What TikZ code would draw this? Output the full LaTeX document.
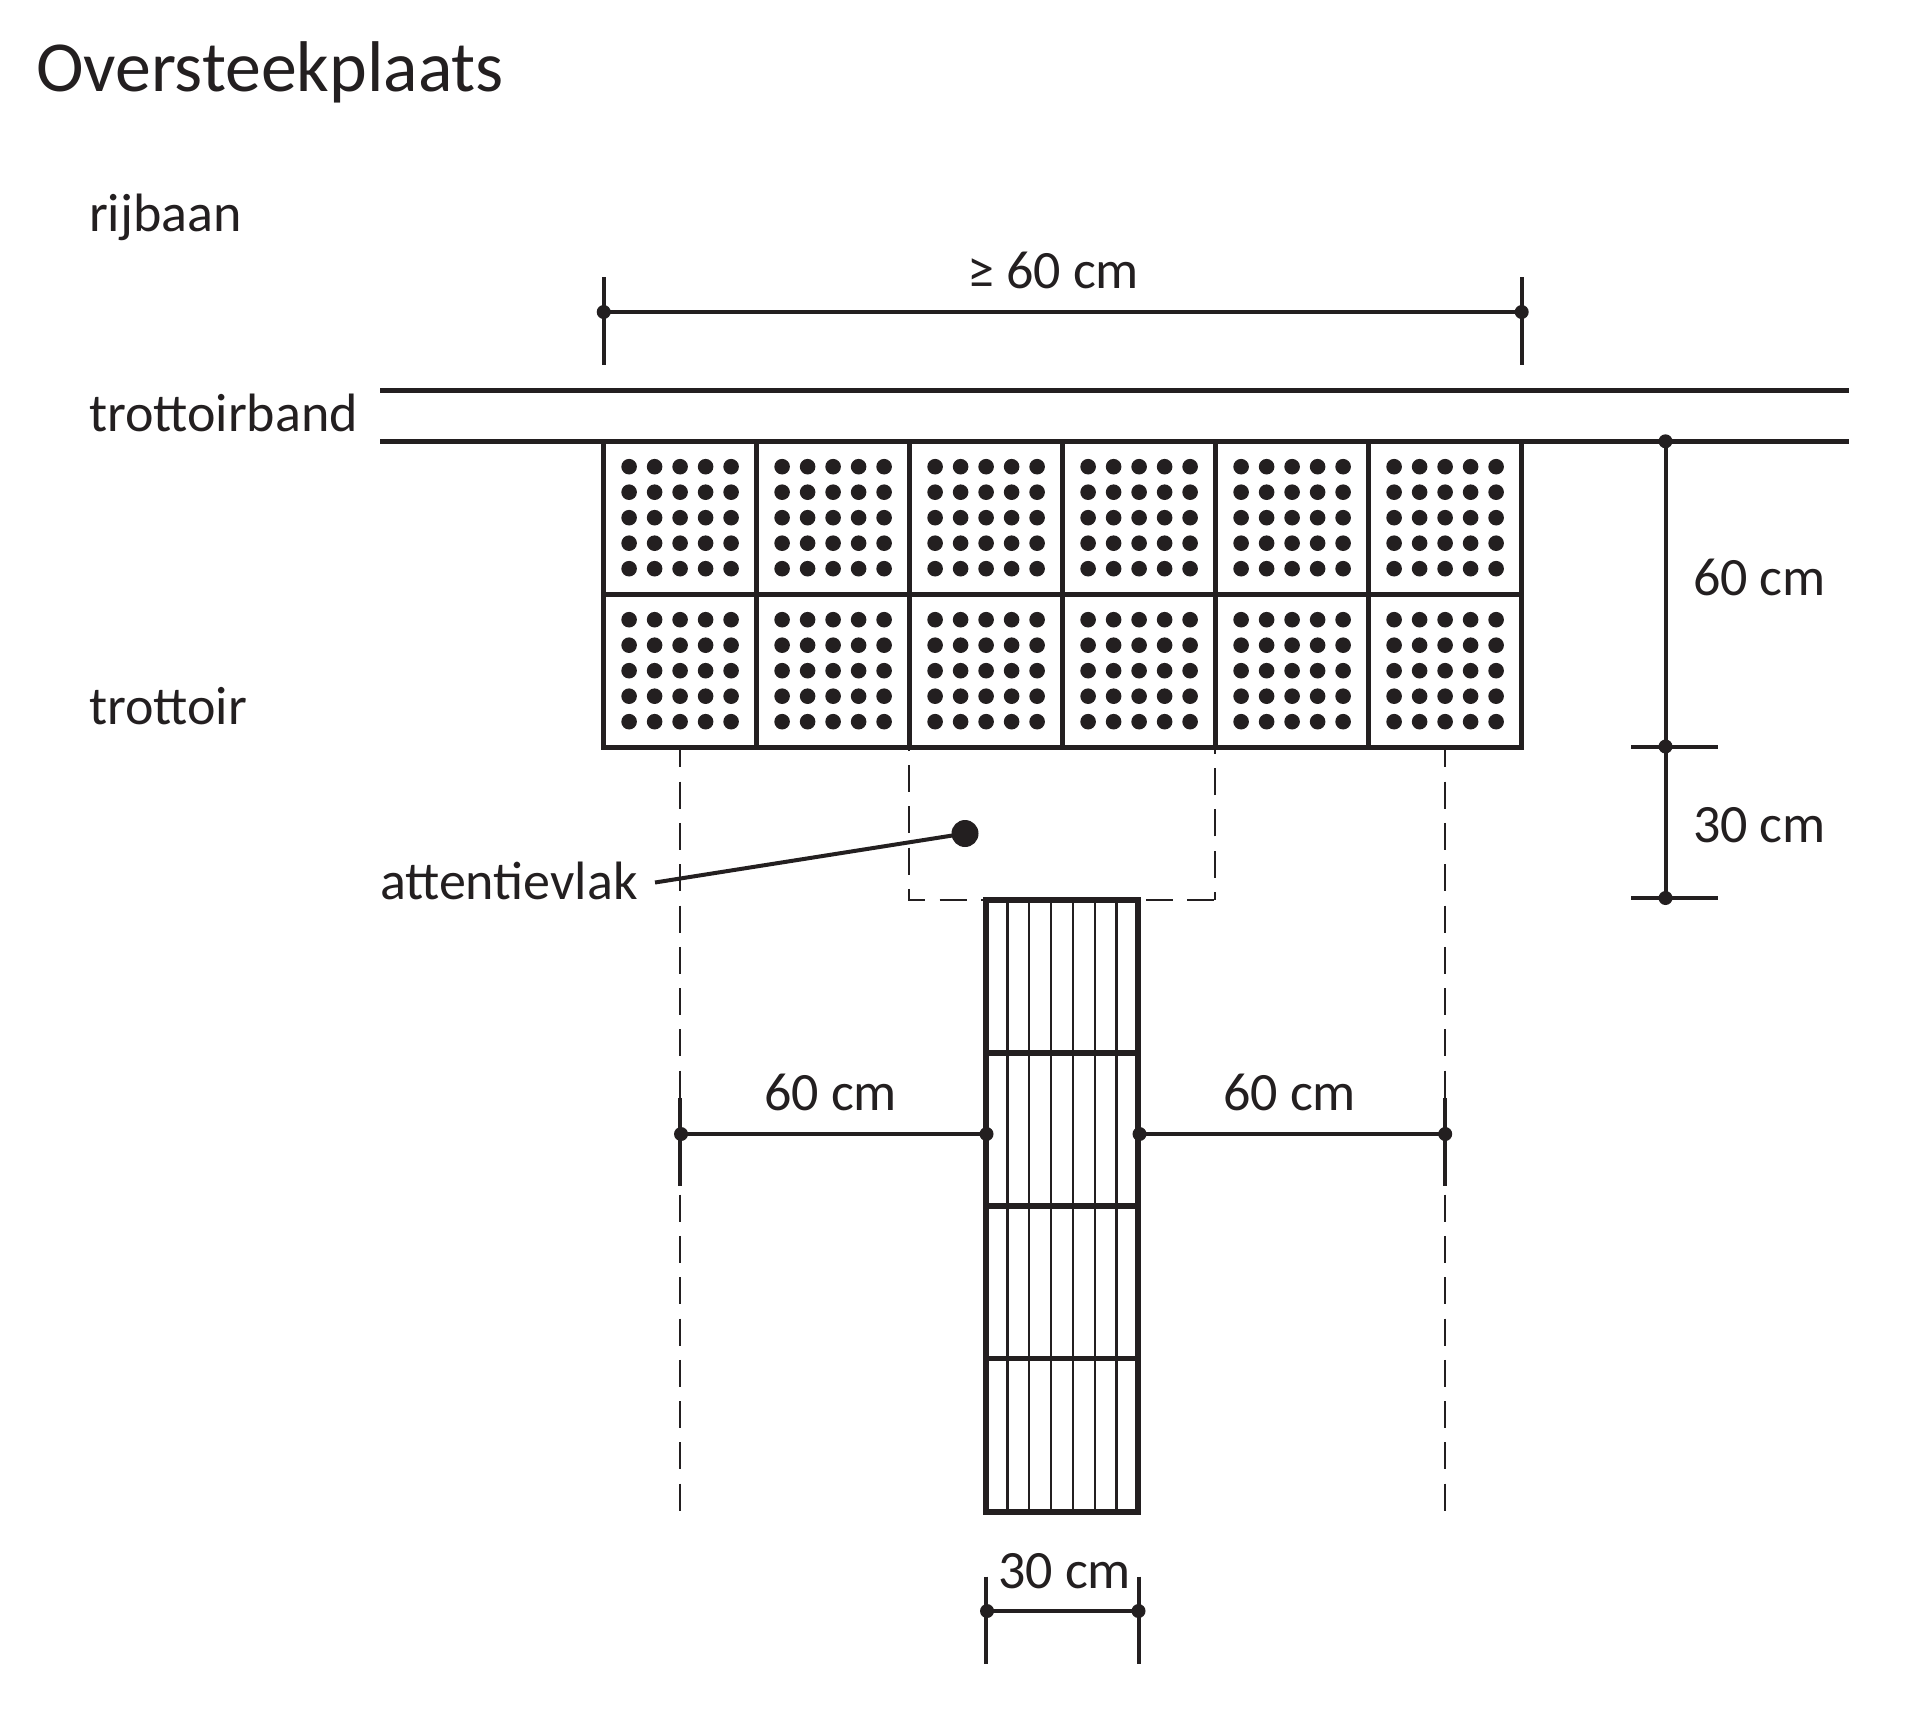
\documentclass[tikz,border=0pt]{standalone}
\usepackage{fontspec}
\setmainfont{Carlito}
\definecolor{ink}{HTML}{231F20}
\tikzset{
  txt/.style={text=ink,inner sep=0pt,outer sep=0pt,font=\fontsize{54}{60}\selectfont},
  thick line/.style={draw=ink,line width=5.4pt},
  strip line/.style={draw=ink,line width=6pt},
  dim line/.style={draw=ink,line width=4pt},
  thin line/.style={draw=ink,line width=2.2pt},
  dash line/.style={draw=ink,line width=2pt,dash pattern=on 27pt off 14.3pt},
  dimdot/.style={circle,fill=ink,draw=none,minimum size=14pt,inner sep=0pt,outer sep=0pt},
}
\begin{document}
\begin{tikzpicture}[x=1pt,y=-1pt]
\useasboundingbox (0,0) rectangle (1920,1714);
% title and labels
\node[txt,anchor=base west,font=\fontsize{71.8}{80}\selectfont] (title) at (36,91) {Oversteekplaats};
\node[txt,anchor=base west] (rijbaan) at (89,231) {rijbaan};
\node[txt,anchor=base west] (band) at (89,431.5) {trottoirband};
\node[txt,anchor=base west] (trottoir) at (89,724) {trottoir};
\node[txt,anchor=base west] (attn) at (380,899.5) {attentievlak};
\node[txt,anchor=base] (wtop) at (1053,288.5) {≥ 60 cm};
\node[txt,anchor=base west] (h60) at (1693,595) {60 cm};
\node[txt,anchor=base west] (h30) at (1693,842) {30 cm};
\node[txt,anchor=base] (l60) at (830.5,1110.5) {60 cm};
\node[txt,anchor=base] (r60) at (1289.5,1110.5) {60 cm};
\node[txt,anchor=base] (b30) at (1064.5,1588.5) {30 cm};
% kerb
\coordinate (k1a) at (380,390.5); \coordinate (k1b) at (1849,390.5);
\coordinate (k2a) at (380,441.3); \coordinate (k2b) at (1849,441.3);
\draw[thick line] (k1a) -- (k1b);
\draw[thick line] (k2a) -- (k2b);
% dashed guides
\coordinate (dl1) at (680.2,747.3); \coordinate (dl2) at (680.2,1512);
\coordinate (dr1) at (1445.2,747.3); \coordinate (dr2) at (1445.2,1512);
\draw[dash line,dash phase=7pt] (dl1) -- (dl2);
\draw[dash line,dash phase=7pt] (dr1) -- (dr2);
\coordinate (db1) at (909.3,747.3); \coordinate (db2) at (909.3,900);
\coordinate (db3) at (1215.3,900); \coordinate (db4) at (1215.3,747.3);
\draw[dash line,dash phase=23.6pt] (db1) -- (db2) -- (db3);
\draw[dash line,dash phase=19pt] (db3) -- (db4);
% tiles
\foreach \i in {0,...,5}{
  \foreach \j in {0,1}{
    \pgfmathsetmacro{\tx}{603.7+153*\i}
    \pgfmathsetmacro{\ty}{441.3+153*\j}
    \foreach \a in {0,...,4}{
      \foreach \b in {0,...,4}{
        \fill[ink] ({\tx+25.4+25.5*\a},{\ty+25.4+25.5*\b}) circle (7.8);
      }
    }
  }
}
\foreach \i in {1,...,5}{
  \draw[thick line] ({603.7+153*\i},441.3) -- ({603.7+153*\i},747.3);
}
\draw[thick line] (603.7,594.3) -- (1521.7,594.3);
\draw[thick line] (603.7,441.3) rectangle (1521.7,747.3);
% striped strip
\foreach \i in {1,...,6}{
  \draw[thin line] ({985.7+21.8*\i},900) -- ({985.7+21.8*\i},1511.6);
}
\foreach \j in {1,2,3}{
  \draw[thick line] (985.7,{900+152.9*\j}) -- (1138.3,{900+152.9*\j});
}
\draw[strip line] (985.7,900) rectangle (1138.3,1511.6);
% top dimension
\node[dimdot] (t1) at (603.7,312) {};
\node[dimdot] (t2) at (1521.7,312) {};
\draw[dim line] (t1.center) -- (t2.center);
\draw[dim line] (603.7,277) -- (603.7,365);
\draw[dim line] (1521.7,277) -- (1521.7,365);
% right dimension
\node[dimdot] (r1) at (1665.5,441.3) {};
\node[dimdot] (r2) at (1665.5,746.5) {};
\node[dimdot] (r3) at (1665.5,898) {};
\draw[dim line] (r1.center) -- (r2.center) -- (r3.center);
\draw[dim line] (1631,746.5) -- (1718,746.5);
\draw[dim line] (1631,898) -- (1718,898);
% lateral dimensions
\node[dimdot] (a1) at (681,1134) {};
\node[dimdot] (a2) at (986.5,1134) {};
\node[dimdot] (a3) at (1139.5,1134) {};
\node[dimdot] (a4) at (1445.2,1134) {};
\draw[dim line] (a1.center) -- (a2.center);
\draw[dim line] (a3.center) -- (a4.center);
\draw[dim line] (680.2,1098) -- (680.2,1186);
\draw[dim line] (1445.2,1098) -- (1445.2,1186);
% bottom dimension
\node[dimdot] (b1) at (987,1611) {};
\node[dimdot] (b2) at (1138.5,1611) {};
\draw[dim line] (b1.center) -- (b2.center);
\draw[dim line] (985.7,1576.7) -- (985.7,1664);
\draw[dim line] (1138.7,1576.7) -- (1138.7,1664);
% leader
\node[circle,fill=ink,draw=none,minimum size=27pt,inner sep=0pt] (spot) at (965,833.5) {};
\coordinate (lead) at (655,882.5);
\draw[dim line] (lead) -- (spot.center);
\end{tikzpicture}
\end{document}
